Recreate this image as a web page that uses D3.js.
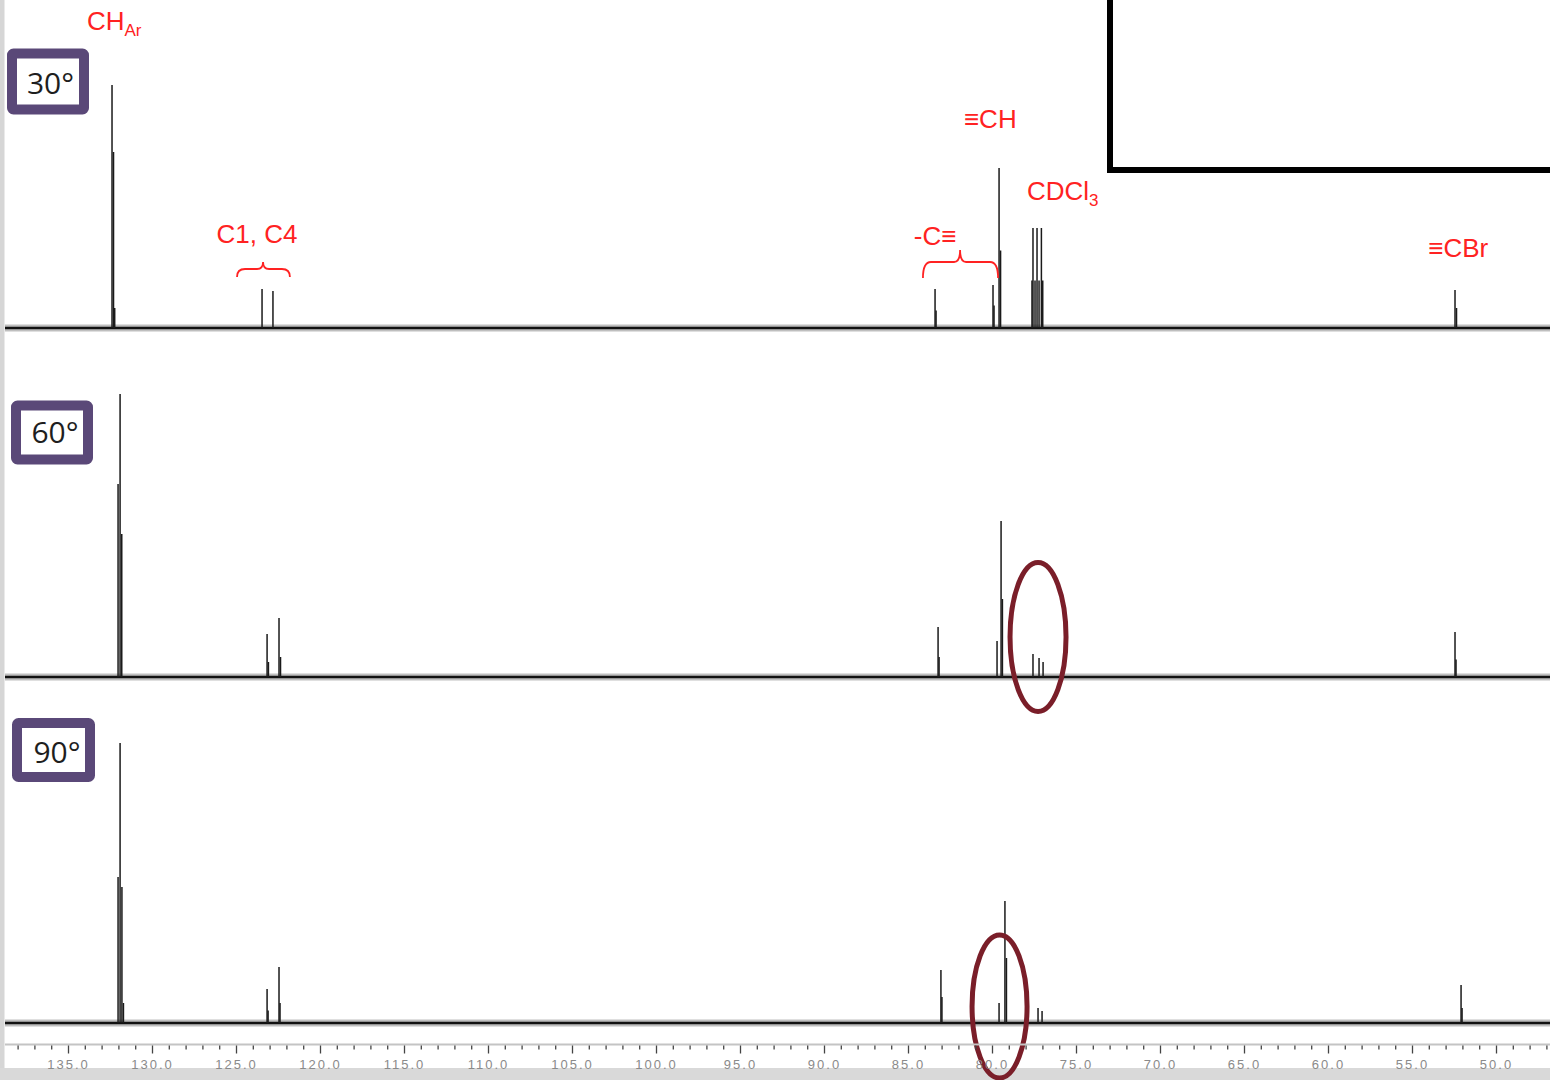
<!DOCTYPE html>
<html><head><meta charset="utf-8">
<script src="https://cdn.jsdelivr.net/npm/d3@7"></script>
<style>
body{margin:0;background:#fff;}
svg{display:block;font-family:"Liberation Sans",Arial,sans-serif;}
</style>
</head><body>
<svg id="c" width="1550" height="1080"></svg>
<script>
// ---------- data ----------
const panelLabels = ["30°", "60°", "90°"];
const majorTicks = [135, 130, 125, 120, 115, 110, 105, 100, 95, 90, 85, 80, 75, 70, 65, 60, 55, 50];
const minorTicks = [138,137,136,134,133,132,131,129,128,127,126,124,123,122,121,119,118,117,116,114,113,112,111,109,108,107,106,104,103,102,101,99,98,97,96,94,93,92,91,89,88,87,86,84,83,82,81,79,78,77,76,74,73,72,71,69,68,67,66,64,63,62,61,59,58,57,56,54,53,52,51,49,48,47];
// [ppm, intensity]
const peaks30 = [[132.38,97.2],[132.29,70.4],[132.22,8],[123.45,15.6],[122.80,14.8],[83.39,15.6],[83.33,7],
  [79.94,17.2],[79.88,9],[79.58,64],[79.49,31],[77.62,19],[77.56,40],[77.44,19],[77.32,40],[77.20,19],[77.06,40],[76.98,19],
  [52.44,15.2],[52.35,8]];
const peaks60 = [[131.90,113.2],[132.02,77.2],[131.80,57.2],[123.15,17.2],[123.07,6],[122.44,23.6],[122.35,8],
  [83.21,20],[83.15,8],[79.70,14.4],[79.46,62.4],[79.38,31.2],[77.56,9.2],[77.20,7.6],[76.96,6],[52.44,18],[52.38,7]];
const peaks90 = [[131.90,112],[132.02,58.4],[131.79,54.4],[131.70,8],[123.15,13.6],[123.09,5],[122.44,22.4],[122.38,8],
  [83.04,21.2],[82.98,10.4],[79.58,8],[79.23,48.8],[79.14,26],[77.26,6],[77.02,4.8],[52.08,15.2],[52.02,6]];
const spectra = [peaks30, peaks60, peaks90];
// annotations (ppm positions)
const circled = [null, {ppm: 77.26, level: 16, rx: 28, ry: 74.5}, {ppm: 79.55, level: 6.6, rx: 27.5, ry: 71.5}];

// ---------- layout ----------
const W = 1550, H = 1080;
const svg = d3.select("#c");
const x = d3.scaleLinear().domain([135, 50]).range([68, 1496]);
const baselines = [328, 677, 1023];
const ys = baselines.map(b => d3.scaleLinear().domain([0, 100]).range([b, b - 250]));

svg.append("rect").attr("width", W).attr("height", H).attr("fill", "#fff");
// left gray strip & bottom band
svg.append("rect").attr("x", 0).attr("y", 0).attr("width", 4.5).attr("height", H).attr("fill", "#d6d6d6");
svg.append("rect").attr("x", 0).attr("y", 1068).attr("width", W).attr("height", 12).attr("fill", "#d9d9d9");

// top-right black box
svg.append("path").attr("d", "M1110,-10V170H1560").attr("fill", "none").attr("stroke", "#000").attr("stroke-width", 6);

// spectra
spectra.forEach((pk, i) => {
  const y = ys[i];
  const g = svg.append("g");
  // noisy baseline band
  g.append("rect").attr("x", 5).attr("width", W - 5).attr("y", y(0) - 3.5).attr("height", 7)
    .attr("fill", "#000").attr("opacity", 0.25);
  g.append("line").attr("x1", 5).attr("x2", W).attr("y1", y(0)).attr("y2", y(0))
    .attr("stroke", "#111").attr("stroke-width", 2.6);
  g.selectAll("line.pk").data(pk).join("line").attr("class", "pk")
    .attr("x1", d => x(d[0])).attr("x2", d => x(d[0]))
    .attr("y1", y(0)).attr("y2", d => y(d[1]))
    .attr("stroke", "#1a1a1a").attr("stroke-width", 1.5);
});

// panel labels
const boxes = [{x: 12, y: 53.5, w: 72, h: 56, tx: 50.5, ty: 94}, {x: 16, y: 405.5, w: 72, h: 54, tx: 55, ty: 443}, {x: 17, y: 723, w: 73, h: 54, tx: 57, ty: 763}];
panelLabels.forEach((t, i) => {
  const b = boxes[i];
  svg.append("rect").attr("x", b.x).attr("y", b.y).attr("width", b.w).attr("height", b.h)
    .attr("fill", "#fff").attr("stroke", "#5a4878").attr("stroke-width", 10).attr("rx", 1.5);
  svg.append("text").attr("x", b.tx).attr("y", b.ty).attr("text-anchor", "middle")
    .attr("font-size", 30).attr("fill", "#1e1e1e").attr("font-family", "'Open Sans','Liberation Sans',sans-serif").text(t);
});

// circles
circled.forEach((c, i) => {
  if (!c) return;
  svg.append("ellipse").attr("cx", x(c.ppm)).attr("cy", ys[i](c.level)).attr("rx", c.rx).attr("ry", c.ry)
    .attr("fill", "none").attr("stroke", "#7a1e29").attr("stroke-width", 5);
});

// red annotations
const red = "#ff2222";
const ann = svg.append("g").attr("fill", red).attr("font-size", 26);
const t1 = ann.append("text").attr("x", x(133.87)).attr("y", 30);
t1.append("tspan").text("CH");
t1.append("tspan").attr("font-size", 17).attr("dy", 6).text("Ar");
ann.append("text").attr("x", x(123.75)).attr("y", 243).attr("text-anchor", "middle").text("C1, C4");
ann.append("text").attr("x", x(83.39)).attr("y", 245).attr("text-anchor", "middle").text("-C≡");
ann.append("text").attr("x", x(80.1)).attr("y", 128).attr("text-anchor", "middle").text("≡CH");
const t2 = ann.append("text").attr("x", x(77.92)).attr("y", 200);
t2.append("tspan").text("CDCl");
t2.append("tspan").attr("font-size", 17).attr("dy", 6).text("3");
ann.append("text").attr("x", x(52.25)).attr("y", 257).attr("text-anchor", "middle").text("≡CBr");

function brace(x1, x2, xt, yEnd, yMid, yTip) {
  return `M${x1},${yEnd}Q${x1},${yMid} ${x1 + 8},${yMid}L${xt - 6},${yMid}Q${xt},${yMid} ${xt},${yTip}` +
    `Q${xt},${yMid} ${xt + 6},${yMid}L${x2 - 8},${yMid}Q${x2},${yMid} ${x2},${yEnd}`;
}
svg.append("path").attr("d", brace(x(124.94), x(121.79), x(123.39), 277, 269, 262))
  .attr("fill", "none").attr("stroke", red).attr("stroke-width", 1.8);
svg.append("path").attr("d", brace(x(84.11), x(79.64), x(81.9), 278, 262, 250))
  .attr("fill", "none").attr("stroke", red).attr("stroke-width", 1.8);

// axis
svg.append("line").attr("x1", 5).attr("x2", W).attr("y1", 1044.5).attr("y2", 1044.5)
  .attr("stroke", "#c4c4c4").attr("stroke-width", 2);
const gMinor = svg.append("g").attr("transform", "translate(0,1045.5)")
  .call(d3.axisBottom(x).tickValues(minorTicks).tickSize(4).tickFormat(""));
const gMajor = svg.append("g").attr("transform", "translate(0,1045.5)")
  .call(d3.axisBottom(x).tickValues(majorTicks).tickSize(8).tickPadding(6).tickFormat(d3.format(".1f")));
[gMinor, gMajor].forEach(g => {
  g.select(".domain").remove();
  g.selectAll(".tick line").attr("stroke", "#444").attr("stroke-width", 1.3);
});
gMajor.selectAll(".tick text").attr("fill", "#8a8a8a").attr("font-size", 13)
  .attr("letter-spacing", "2px").attr("font-family", "'Liberation Sans',Arial,sans-serif");
</script>
</body></html>
